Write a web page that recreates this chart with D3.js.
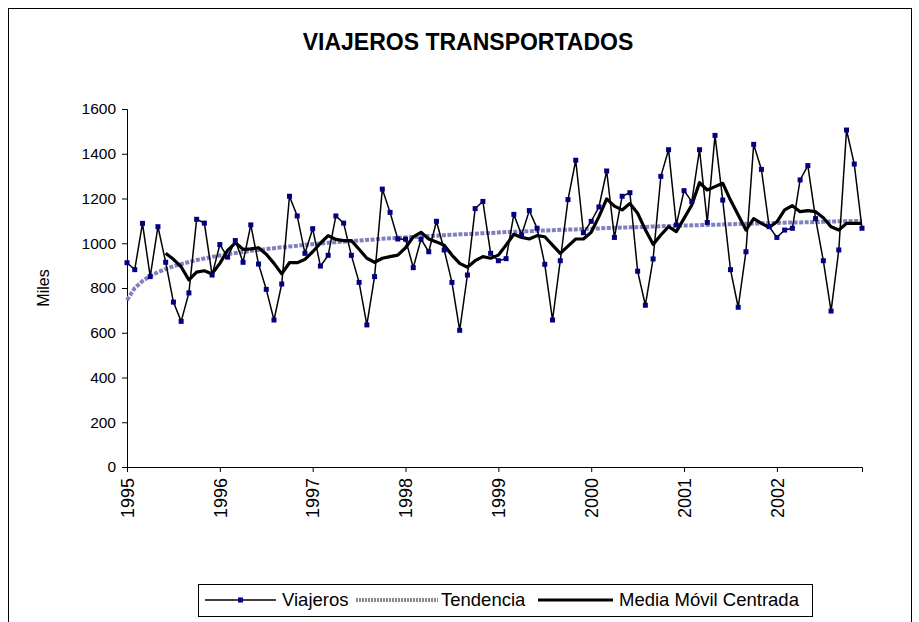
<!DOCTYPE html>
<html>
<head>
<meta charset="utf-8">
<script src="https://cdn.jsdelivr.net/npm/d3@7"></script>
<style>
  body { margin: 0; background: #fff; }
  svg { display: block; font-family: "Liberation Sans", Arial, sans-serif; }
</style>
</head>
<body>
<svg id="chart" width="919" height="622"></svg>
<script>
// monthly passengers (miles), Jan 1995 .. Dec 2002
const viajeros = [
  913, 882, 1089, 851, 1074, 915, 737, 651, 778, 1107, 1090, 858,
  994, 938, 1012, 915, 1082, 907, 794, 657, 818, 1210, 1122, 955,
  1065, 898, 946, 1122, 1090, 946, 825, 635, 851, 1242, 1138, 1019,
  1018, 891, 1018, 962, 1098, 970, 825, 611, 858, 1155, 1187, 955,
  922, 931, 1129, 1037, 1146, 1067, 906, 657, 922, 1195, 1371, 1047,
  1098, 1162, 1323, 1026, 1210, 1226, 875, 723, 930, 1299, 1418, 1082,
  1235, 1186, 1418, 1093, 1482, 1193, 882, 714, 962, 1442, 1330, 1074,
  1026, 1059, 1067, 1283, 1347, 1110, 922, 697, 970, 1506, 1354, 1067
];

// logarithmic trend
const tendencia = [
  746, 800, 831, 854, 871, 885, 897, 907, 916, 925, 932, 939,
  945, 951, 956, 961, 966, 970, 974, 978, 982, 986, 989, 993,
  996, 999, 1002, 1005, 1007, 1010, 1012, 1015, 1017, 1020, 1022, 1024,
  1026, 1028, 1030, 1032, 1034, 1036, 1038, 1040, 1041, 1043, 1045, 1046,
  1048, 1050, 1051, 1053, 1054, 1056, 1057, 1058, 1060, 1061, 1062, 1064,
  1065, 1066, 1068, 1069, 1070, 1071, 1072, 1073, 1075, 1076, 1077, 1078,
  1079, 1080, 1081, 1082, 1083, 1084, 1085, 1086, 1087, 1088, 1089, 1090,
  1091, 1092, 1093, 1093, 1094, 1095, 1096, 1097, 1098, 1098, 1099, 1100
];

// moving average starts at month index 5 (Jun 1995)
const mediaStart = 5;
const mediaMovil = [
  955, 928, 895, 836, 871, 877, 863,
  910, 968, 1002, 973, 975, 980, 951, 910, 863, 913, 913, 928,
  962, 1000, 1034, 1017, 1012, 1012, 973, 933, 915, 933, 940, 947,
  980, 1029, 1049, 1019, 1006, 991, 947, 910, 893, 922, 940, 933,
  947, 992, 1040, 1026, 1019, 1034, 1029, 992, 955, 987, 1019, 1019,
  1049, 1119, 1198, 1166, 1149, 1178, 1134, 1060, 995, 1037, 1074, 1052,
  1111, 1171, 1271, 1238, 1253, 1268, 1193, 1126, 1059, 1110, 1089, 1071,
  1096, 1149, 1168, 1141, 1146, 1141, 1114, 1074, 1059, 1089, 1089, 1089
];

const years = ["1995", "1996", "1997", "1998", "1999", "2000", "2001", "2002"];
const yTicks = [0, 200, 400, 600, 800, 1000, 1200, 1400, 1600];

const svg = d3.select("#chart");

const x = d3.scaleLinear().domain([0, viajeros.length - 1]).range([127, 862]);
const y = d3.scaleLinear().domain([0, 1600]).range([467, 109]);

// outer frame
svg.append("rect")
    .attr("x", 8.5).attr("y", 8.5)
    .attr("width", 903).attr("height", 640)
    .attr("fill", "none").attr("stroke", "#000").attr("stroke-width", 1);

svg.append("text")
    .attr("x", 468).attr("y", 50)
    .attr("text-anchor", "middle")
    .attr("font-size", 23).attr("font-weight", "bold")
    .text("VIAJEROS TRANSPORTADOS");

// axes
const yAxis = svg.append("g")
    .attr("transform", "translate(127,0)")
    .call(d3.axisLeft(y).tickValues(yTicks).tickSize(5).tickPadding(6).tickFormat(d3.format("d")));
yAxis.selectAll("text").attr("font-size", 15.5).attr("fill", "#000");

const xAxis = svg.append("g")
    .attr("transform", "translate(0,467)")
    .call(d3.axisBottom(x)
        .tickValues(years.map((d, i) => i * 12))
        .tickSize(5)
        .tickFormat((d, i) => years[i]));
xAxis.selectAll("text")
    .attr("font-size", 18).attr("fill", "#000")
    .attr("transform", "rotate(-90)")
    .attr("text-anchor", "end")
    .attr("x", -11).attr("y", 0).attr("dy", "0.35em");

[yAxis, xAxis].forEach(a => {
    a.select(".domain").attr("stroke", "#000");
    a.selectAll(".tick line").attr("stroke", "#000");
});

svg.append("text")
    .attr("transform", "translate(49,288) rotate(-90)")
    .attr("text-anchor", "middle")
    .attr("font-size", 16)
    .text("Miles");

// series
const line = d3.line().x((d, i) => x(i)).y(d => y(d));

svg.append("path")
    .datum(tendencia)
    .attr("fill", "none")
    .attr("stroke", "#8080c0")
    .attr("stroke-width", 4)
    .attr("stroke-dasharray", "4,1.5")
    .attr("d", line);

svg.append("path")
    .datum(viajeros)
    .attr("fill", "none")
    .attr("stroke", "#000")
    .attr("stroke-width", 1.5)
    .attr("d", line);

svg.append("path")
    .datum(mediaMovil)
    .attr("fill", "none")
    .attr("stroke", "#000")
    .attr("stroke-width", 3.2)
    .attr("stroke-linejoin", "round")
    .attr("d", d3.line().x((d, i) => x(i + mediaStart)).y(d => y(d)));

svg.append("g")
    .selectAll("rect")
    .data(viajeros)
    .enter().append("rect")
    .attr("x", (d, i) => x(i) - 2.5)
    .attr("y", d => y(d) - 2.5)
    .attr("width", 5).attr("height", 5)
    .attr("fill", "#000080");

// legend
const lg = svg.append("g");
lg.append("rect")
    .attr("x", 198.5).attr("y", 584.5)
    .attr("width", 614).attr("height", 32)
    .attr("fill", "#fff").attr("stroke", "#000");

const ly = 600;
lg.append("line").attr("x1", 205).attr("x2", 276).attr("y1", ly).attr("y2", ly)
    .attr("stroke", "#000").attr("stroke-width", 1.5);
lg.append("rect").attr("x", 238).attr("y", ly - 2.5).attr("width", 5).attr("height", 5).attr("fill", "#000080");
lg.append("line").attr("x1", 356).attr("x2", 438).attr("y1", ly).attr("y2", ly)
    .attr("stroke", "#8c8c8c").attr("stroke-width", 4).attr("stroke-dasharray", "2,1");
lg.append("line").attr("x1", 538).attr("x2", 613).attr("y1", ly).attr("y2", ly)
    .attr("stroke", "#000").attr("stroke-width", 3.2);

[["Viajeros", 282], ["Tendencia", 441], ["Media Móvil Centrada", 619]].forEach(([t, tx]) => {
    lg.append("text").attr("x", tx).attr("y", ly).attr("dy", "0.35em")
        .attr("font-size", 18.5).text(t);
});
</script>
</body>
</html>
